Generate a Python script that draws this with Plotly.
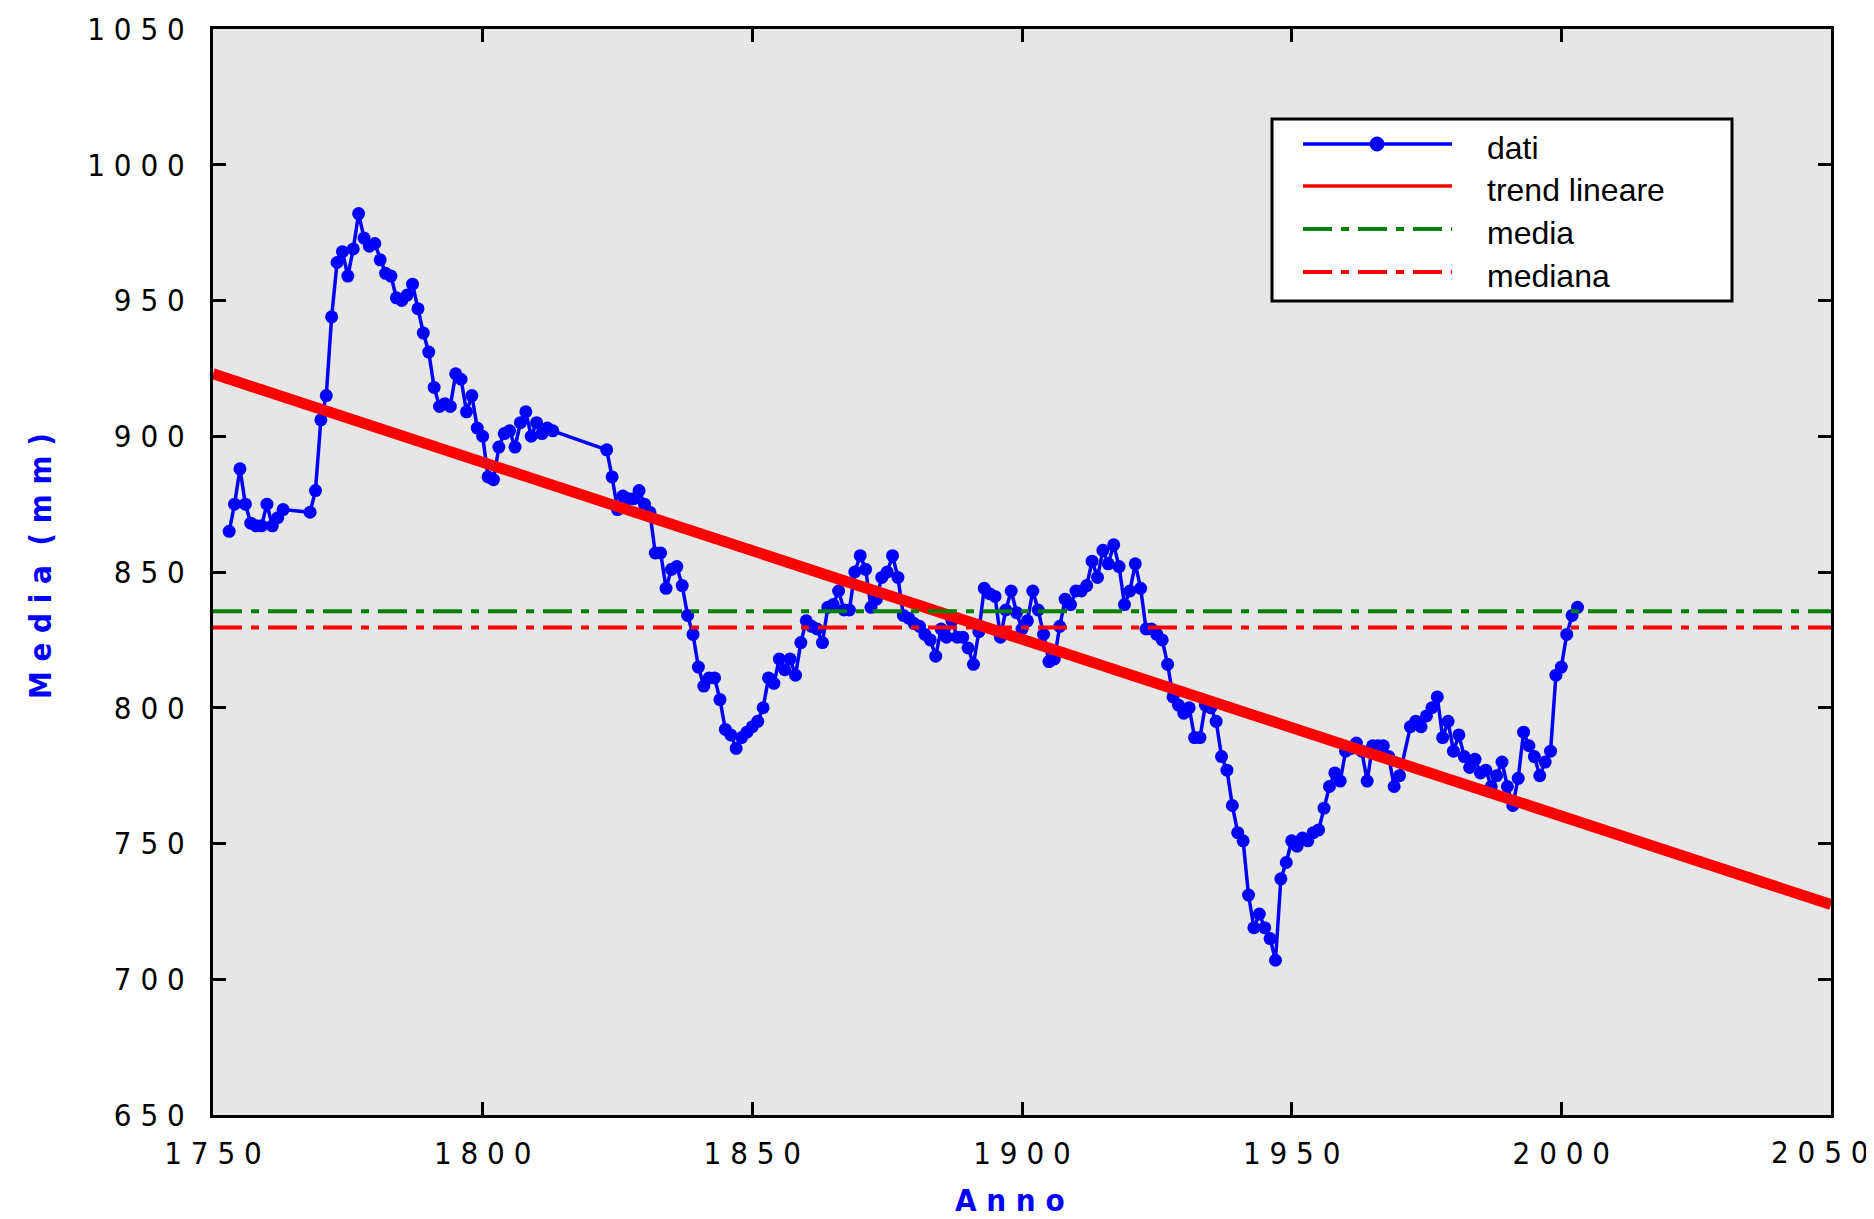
import plotly.graph_objects as go

# ---------------- data ----------------
years = (list(range(1753, 1764)) + list(range(1768, 1814)) +
         list(range(1823, 1971)) + list(range(1972, 2004)))

values = [
    # 1753-1763
    865, 875, 888, 875, 868, 867, 867, 875, 867, 870, 873,
    # 1768-1813
    872, 880, 906, 915, 944, 964, 968, 959, 969, 982,
    973, 970, 971, 965, 960, 959, 951, 950, 952, 956,
    947, 938, 931, 918, 911, 912, 911, 923, 921, 909,
    915, 903, 900, 885, 884, 896, 901, 902, 896, 905,
    909, 900, 905, 901, 903, 902,
    # 1823-1970
    895, 885, 873, 878, 877, 877, 880, 875, 872, 857,
    857, 844, 851, 852, 845, 834, 827, 815, 808, 811,
    811, 803, 792, 790, 785, 789, 791, 793, 795, 800,
    811, 809, 818, 814, 818, 812, 824, 832, 830, 829,
    824, 837, 838, 843, 836, 836, 850, 856, 851, 837,
    840, 848, 850, 856, 848, 834, 833, 831, 830, 827,
    825, 819, 829, 826, 832, 826, 826, 822, 816, 828,
    844, 842, 841, 826, 836, 843, 835, 829, 832, 843,
    836, 827, 817, 818, 830, 840, 838, 843, 843, 845,
    854, 848, 858, 853, 860, 852, 838, 843, 853, 844,
    829, 829, 827, 825, 816, 804, 801, 798, 800, 789,
    789, 801, 800, 795, 782, 777, 764, 754, 751, 731,
    719, 724, 719, 715, 707, 737, 743, 751, 749, 752,
    751, 754, 755, 763, 771, 776, 773, 784, 785, 787,
    784, 773, 786, 786, 786, 782, 771, 775,
    # 1972-2003
    793, 795, 793, 797, 800, 804, 789, 795, 784, 790,
    782, 778, 781, 776, 777, 771, 775, 780, 771, 764,
    774, 791, 786, 782, 775, 780, 784, 812, 815, 827,
    834, 837,
]

trend_years = [1750, 2050]
trend_values = [923.0, 727.5]
line_span = [1750, 2050]
mean_value = 835.5
median_value = 829.6

x_ticks = [1750, 1800, 1850, 1900, 1950, 2000, 2050]
y_ticks = [650, 700, 750, 800, 850, 900, 950, 1000, 1050]
legend_labels = ["dati", "trend lineare", "media", "mediana"]
x_title = "A n n o"
y_title = "M e d i a  ( m m )"

# ---------------- geometry (page pixels; the page body has an 8px margin) ----------------
OFF = 8
W, H = 1874 - OFF, 1219 - OFF
ML, MT = 213 - OFF, 29 - OFF
MR, MB = 43, 104
PW, PH = W - ML - MR, H - MT - MB

BLUE, RED, GREEN = "#0000ff", "#ff0000", "#008000"
DASHDOT = "29px,9px,8px,9px"
NARROW = "DejaVu Sans Condensed, Liberation Sans Narrow, DejaVu Sans, sans-serif"
SANS = "Liberation Sans, Arial, sans-serif"
TICK_FONT = dict(family=NARROW, size=31, color="black")

fig = go.Figure()
fig.add_trace(go.Scatter(x=years, y=values, mode="lines+markers", name=legend_labels[0],
                         line=dict(color=BLUE, width=3.5),
                         marker=dict(color=BLUE, size=13)))
fig.add_trace(go.Scatter(x=trend_years, y=trend_values, mode="lines", name=legend_labels[1],
                         line=dict(color=RED, width=11)))
fig.add_trace(go.Scatter(x=line_span, y=[mean_value] * 2, mode="lines", name=legend_labels[2],
                         line=dict(color=GREEN, width=4, dash=DASHDOT)))
fig.add_trace(go.Scatter(x=line_span, y=[median_value] * 2, mode="lines", name=legend_labels[3],
                         line=dict(color=RED, width=4, dash=DASHDOT)))

def spaced(s):
    return " ".join(str(s))

# the last x label sits at the page edge: it is drawn as an annotation kept inside the page
x_text = [spaced(v) for v in x_ticks[:-1]] + [""]

axis_common = dict(ticks="inside", ticklen=13, tickwidth=3, tickcolor="black",
                   showline=True, linewidth=3, linecolor="black", mirror="ticks",
                   showgrid=False, zeroline=False, tickfont=TICK_FONT)

fig.update_xaxes(range=[1750, 2050], tickvals=x_ticks, ticktext=x_text,
                 ticklabelstandoff=9, **axis_common)
fig.update_yaxes(range=[650, 1050], tickvals=y_ticks,
                 ticktext=[spaced(v) for v in y_ticks],
                 ticklabelstandoff=19, **axis_common)

# ---------------- manual legend & axis titles ----------------
def px(x):
    return (x - OFF - ML) / PW

def py(y):
    return (H + OFF - MB - y) / PH

shapes = [dict(type="rect", xref="paper", yref="paper",
               x0=px(1272), x1=px(1732), y0=py(301), y1=py(119),
               line=dict(color="black", width=3), fillcolor="white", layer="above")]
rows = [144, 186, 229, 272]
styles = [(BLUE, "solid", 3.5), (RED, "solid", 3.5), (GREEN, DASHDOT, 4), (RED, DASHDOT, 4)]
annotations = []
for ry, (col, dash, w), lab in zip(rows, styles, legend_labels):
    shapes.append(dict(type="line", xref="paper", yref="paper",
                       x0=px(1303), x1=px(1452), y0=py(ry), y1=py(ry),
                       line=dict(color=col, width=w, dash=dash), layer="above"))
    annotations.append(dict(xref="paper", yref="paper", x=px(1485), y=py(ry + 4),
                            xanchor="left", yanchor="middle", showarrow=False,
                            text=lab, font=dict(family=SANS, size=32, color="black")))
shapes.append(dict(type="circle", xref="paper", yref="paper",
                   x0=px(1370), x1=px(1384), y0=py(151), y1=py(137),
                   line=dict(color=BLUE, width=1), fillcolor=BLUE, layer="above"))

annotations.append(dict(xref="paper", yref="paper", x=px(1871), y=py(1152),
                        xanchor="right", yanchor="middle", showarrow=False,
                        text=spaced(x_ticks[-1]), font=TICK_FONT))
annotations.append(dict(xref="paper", yref="paper", x=px(1010), y=py(1200),
                        xanchor="center", yanchor="middle", showarrow=False, text=x_title,
                        font=dict(family=NARROW, size=31, color=BLUE, weight="bold")))
annotations.append(dict(xref="paper", yref="paper", x=px(40), y=py(566),
                        xanchor="center", yanchor="middle", showarrow=False, text=y_title,
                        textangle=-90,
                        font=dict(family=NARROW, size=31, color=BLUE, weight="bold")))

fig.update_layout(width=W, height=H, margin=dict(l=ML, r=MR, t=MT, b=MB, autoexpand=False),
                  plot_bgcolor="#e6e6e6", paper_bgcolor="white", showlegend=False,
                  shapes=shapes, annotations=annotations)

fig.write_html("out.html")
